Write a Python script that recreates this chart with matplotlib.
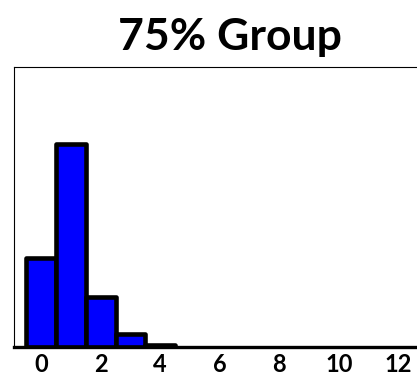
import matplotlib
matplotlib.use("Agg")
import matplotlib.pyplot as plt

# histogram bins (centered on integers) and bar heights
bins = [0, 1, 2, 3, 4]
heights = [44, 100, 24.6, 6.4, 1.0]
xticks = [0, 2, 4, 6, 8, 10, 12]

plt.rcParams["font.family"] = ["Lato", "DejaVu Sans"]

fig = plt.figure(figsize=(4.17, 3.76), dpi=100)
ax = fig.add_axes([14 / 417, 29 / 376, 403 / 417, 280 / 376])

ax.bar(bins, heights, width=1.0, color="#0000ff", edgecolor="black",
       linewidth=3.3, joinstyle="round", capstyle="round")

ax.set_xlim(-0.91, 12.62)
ax.set_ylim(0, 138)
ax.set_xticks(xticks)
ax.set_xticklabels([str(t) for t in xticks], fontsize=17, fontweight="bold")
ax.set_yticks([])
ax.tick_params(axis="x", length=0, pad=4)

ax.spines["right"].set_visible(False)
ax.spines["bottom"].set_linewidth(2.4)
ax.spines["left"].set_linewidth(0.8)
ax.spines["top"].set_linewidth(0.8)

# title sits centred over the full (clipped) axes, so a bit right of centre
fig.text(230 / 417, 1 - 50 / 376, "75% Group", fontsize=32, fontweight="bold",
         ha="center", va="baseline")

fig.savefig("out.png", dpi=100)
